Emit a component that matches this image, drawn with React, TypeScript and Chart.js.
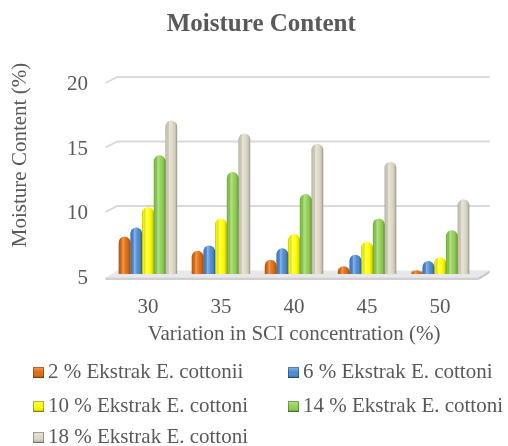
import React, { useEffect, useRef } from 'react';
import { Chart, registerables } from 'chart.js';

Chart.register(...registerables);
Chart.defaults.font.family = '"Liberation Serif", "Times New Roman", serif';

const categories = ['30', '35', '40', '45', '50'];
const seriesLabels = [
  '2 % Ekstrak E. cottonii',
  '6 % Ekstrak E. cottoni',
  '10 % Ekstrak E. cottoni',
  '14 % Ekstrak E. cottoni',
  '18 % Ekstrak E. cottoni',
];
const s2 = [7.9, 6.8, 6.1, 5.6, 5.3];
const s6 = [8.6, 7.2, 7.0, 6.5, 6.0];
const s10 = [10.2, 9.3, 8.1, 7.5, 6.3];
const s14 = [14.2, 12.9, 11.2, 9.3, 8.4];
const s18 = [16.9, 15.9, 15.1, 13.7, 10.8];
const yTicks = [5, 10, 15, 20];
const colors = ['#E36A0A', '#4A8AD4', '#FFFF00', '#8FD14F', '#DDD8C4'];

const chartTitle = 'Moisture Content';
const yTitle = 'Moisture Content (%)';
const xTitle = 'Variation in SCI concentration (%)';
const textColor = '#595959';

const floorGridPlugin = {
  id: 'floorGrid',
  beforeDatasetsDraw(chart: any) {
    const { ctx, chartArea, scales } = chart;
    const { left, right } = chartArea;
    const y = scales.y;
    ctx.save();
    ctx.strokeStyle = '#D9D9D9';
    ctx.lineWidth = 1.8;
    for (const v of yTicks) {
      if (v === yTicks[0]) continue;
      const py = y.getPixelForValue(v);
      ctx.beginPath();
      ctx.moveTo(left - 6, py + 2.5);
      ctx.lineTo(left + 6, py - 3.5);
      ctx.lineTo(right + 13, py - 3.5);
      ctx.stroke();
    }
    const pb = y.getPixelForValue(yTicks[0]);
    // floor top
    ctx.beginPath();
    ctx.moveTo(left - 6, pb + 3.5);
    ctx.lineTo(right + 2, pb + 3.5);
    ctx.lineTo(right + 13, pb - 3.5);
    ctx.lineTo(left + 6, pb - 3.5);
    ctx.closePath();
    ctx.fillStyle = '#E8E8E8';
    ctx.fill();
    // floor front thickness
    ctx.beginPath();
    ctx.moveTo(left - 6, pb + 3.5);
    ctx.lineTo(right + 2, pb + 3.5);
    ctx.lineTo(right + 2, pb + 6);
    ctx.lineTo(left - 6, pb + 6);
    ctx.closePath();
    ctx.fillStyle = '#D0D0D0';
    ctx.fill();
    // floor right side
    ctx.beginPath();
    ctx.moveTo(right + 2, pb + 3.5);
    ctx.lineTo(right + 13, pb - 3.5);
    ctx.lineTo(right + 13, pb - 1);
    ctx.lineTo(right + 2, pb + 6);
    ctx.closePath();
    ctx.fillStyle = '#C6C6C6';
    ctx.fill();
    ctx.restore();
  },
};

const cylinderPlugin = {
  id: 'cylinder',
  afterDatasetsDraw(chart: any) {
    const { ctx, chartArea } = chart;
    ctx.save();
    chart.data.datasets.forEach((_ds: any, di: number) => {
      const meta = chart.getDatasetMeta(di);
      if (meta.hidden) return;
      meta.data.forEach((el: any) => {
        const { x, y, base, width } = el.getProps(['x', 'y', 'base', 'width'], true);
        const l = x - width / 2;
        const bottom = Math.min(base, chartArea.bottom);
        const h = bottom - y;
        if (h <= 0) return;
        const rad = Math.min(width / 2, h / 2);
        const g = ctx.createLinearGradient(l, 0, l + width, 0);
        g.addColorStop(0, 'rgba(0,0,0,0.25)');
        g.addColorStop(0.12, 'rgba(0,0,0,0.05)');
        g.addColorStop(0.35, 'rgba(255,255,255,0.35)');
        g.addColorStop(0.6, 'rgba(255,255,255,0.05)');
        g.addColorStop(0.88, 'rgba(0,0,0,0.12)');
        g.addColorStop(1, 'rgba(0,0,0,0.35)');
        ctx.beginPath();
        ctx.roundRect(l, y, width, h, [rad, rad, 0, 0]);
        ctx.fillStyle = g;
        ctx.fill();
      });
    });
    ctx.restore();
  },
};

const legendAndTitlePlugin = {
  id: 'customLegend',
  afterDraw(chart: any) {
    const { ctx } = chart;
    ctx.save();
    // y axis title
    ctx.font = '21px "Liberation Serif", "Times New Roman", serif';
    ctx.fillStyle = textColor;
    ctx.textAlign = 'center';
    ctx.textBaseline = 'middle';
    ctx.translate(20, 155);
    ctx.rotate(-Math.PI / 2);
    ctx.fillText(yTitle, 0, 0);
    ctx.setTransform(1, 0, 0, 1, 0, 0);

    // legend
    const colX = [33, 288];
    const rowY = [372.5, 406.5, 437.5];
    ctx.textAlign = 'left';
    chart.data.datasets.forEach((ds: any, i: number) => {
      const bx = colX[i % 2];
      const cy = rowY[Math.floor(i / 2)];
      const col = colors[i];
      ctx.fillStyle = col;
      ctx.fillRect(bx, cy - 5.5, 11, 11);
      const g = ctx.createLinearGradient(0, cy - 5.5, 0, cy + 5.5);
      g.addColorStop(0, 'rgba(255,255,255,0.35)');
      g.addColorStop(0.5, 'rgba(255,255,255,0)');
      g.addColorStop(1, 'rgba(0,0,0,0.3)');
      ctx.fillStyle = g;
      ctx.fillRect(bx, cy - 5.5, 11, 11);
      ctx.strokeStyle = 'rgba(0,0,0,0.3)';
      ctx.lineWidth = 1;
      ctx.strokeRect(bx + 0.5, cy - 5, 10, 10);
      ctx.fillStyle = textColor;
      ctx.fillText(ds.label, bx + 15, cy);
    });
    ctx.restore();
  },
};

export default function App() {
  const canvasRef = useRef<HTMLCanvasElement | null>(null);

  useEffect(() => {
    if (!canvasRef.current) return;
    const seriesData = [s2, s6, s10, s14, s18];
    const chart = new Chart(canvasRef.current, {
      type: 'bar',
      data: {
        labels: categories,
        datasets: seriesData.map((d, i) => ({
          label: seriesLabels[i],
          data: d,
          backgroundColor: colors[i],
          borderWidth: 0,
          borderRadius: 6,
          borderSkipped: 'start',
          barPercentage: 1.0,
          categoryPercentage: 0.8,
        })),
      },
      options: {
        animation: false,
        responsive: true,
        maintainAspectRatio: false,
        layout: { padding: { left: 46, right: 31.4, top: 0, bottom: 99.4 } },
        plugins: {
          legend: { display: false },
          tooltip: { enabled: false },
          title: {
            display: true,
            text: chartTitle,
            color: textColor,
            font: { size: 25, weight: 'bold' },
            padding: { top: 10, bottom: 40.5 },
          },
        },
        scales: {
          x: {
            grid: { display: false, drawTicks: false },
            border: { display: false },
            ticks: { color: textColor, font: { size: 21 }, padding: 20.4 },
            title: {
              display: true,
              text: xTitle,
              color: textColor,
              font: { size: 21 },
              padding: { top: -18.6, bottom: 0 },
            },
          },
          y: {
            min: 5,
            max: 20,
            grid: { display: false, drawTicks: false },
            border: { display: false },
            ticks: {
              stepSize: 5,
              color: textColor,
              font: { size: 21 },
              padding: 23.4,
              labelOffset: 4,
            },
            afterFit: (scale: any) => {
              scale.width = 65.4;
            },
          },
        },
      },
      plugins: [floorGridPlugin, cylinderPlugin, legendAndTitlePlugin],
    });
    return () => chart.destroy();
  }, []);

  return (
    <div style={{ position: 'fixed', left: 0, top: 0, width: 508, height: 446, background: '#fff' }}>
      <canvas ref={canvasRef} />
    </div>
  );
}
